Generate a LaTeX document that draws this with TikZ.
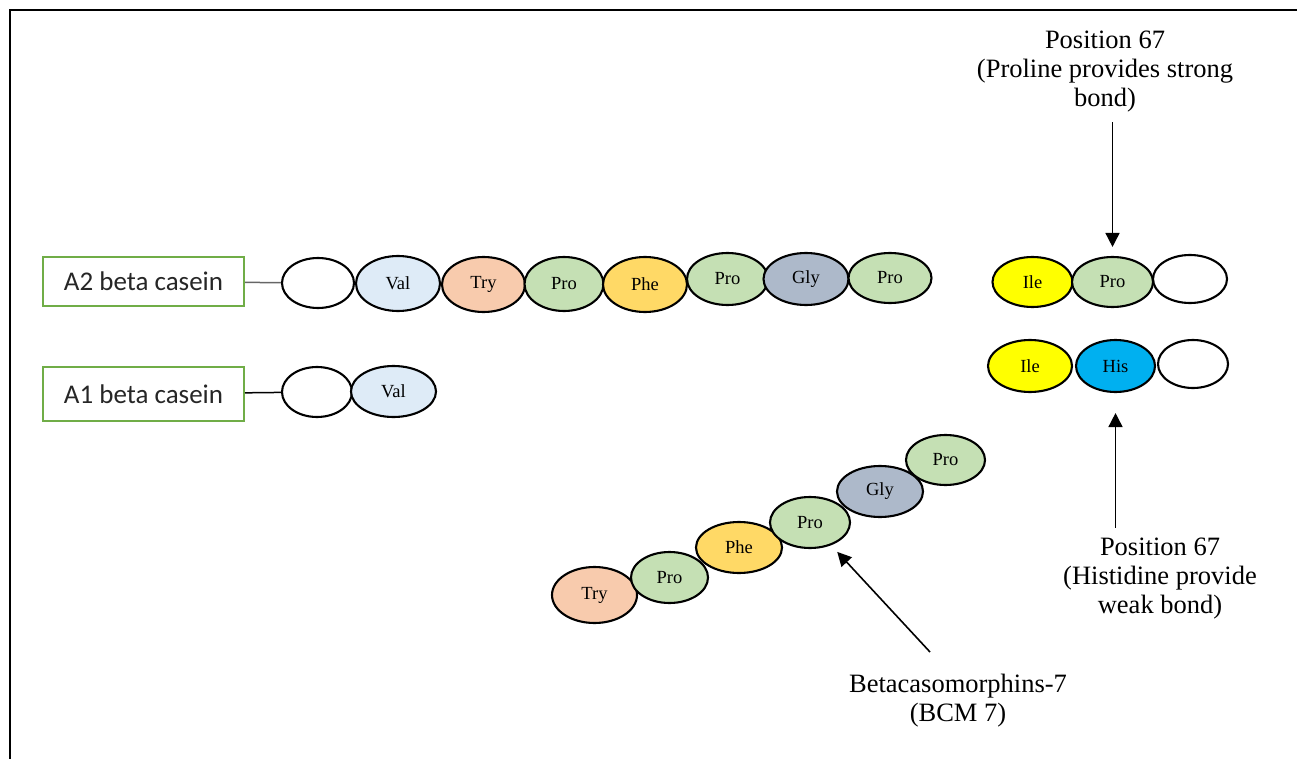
\documentclass[tikz,border=0pt]{standalone}
\usepackage{fontspec}
\setmainfont{Liberation Serif}
\newfontfamily\boxfont{Carlito}
\usetikzlibrary{arrows.meta,shapes.geometric}

\definecolor{boxgreen}{RGB}{112,173,71}
\definecolor{valblue}{RGB}{222,235,247}
\definecolor{trypeach}{RGB}{248,203,173}
\definecolor{progreen}{RGB}{197,224,180}
\definecolor{pheyellow}{RGB}{255,217,102}
\definecolor{glygray}{RGB}{173,185,202}
\definecolor{ileyellow}{RGB}{255,255,0}
\definecolor{hisblue}{RGB}{0,176,240}

\begin{document}
\begin{tikzpicture}[x=1pt,y=-1pt,
  every node/.style={font=\fontsize{26.5}{29}\selectfont},
  acid/.style={ellipse,draw,line width=2.1pt,inner sep=0pt,
    font=\fontsize{18.5}{20}\selectfont},
  chainbox/.style={draw=boxgreen,line width=2pt,minimum width=201pt,
    font=\boxfont\fontsize{27}{30}\selectfont,text=black!85},
  link/.style={line width=1.5pt},
  pointer/.style={line width=1.6pt,-{Triangle[length=14pt,width=14pt]}}]
  \useasboundingbox (0,0) rectangle (1297,759);
  \draw[line width=1.6pt] (10,759) -- (10,10) -- (1297,10);

  % A2 beta casein
  \node[chainbox,minimum height=49pt] (a2box) at (143.5,281.5) {A2 beta casein};
  \node[acid,minimum width=72pt,minimum height=50pt] (a2e) at (318,283) {};
  \node[acid,fill=valblue,minimum width=84pt,minimum height=55pt] (a2val) at (398,283.5) {Val};
  \node[acid,fill=trypeach,minimum width=83pt,minimum height=55pt] (a2try) at (483.5,284.5) {Try};
  \node[acid,fill=progreen,minimum width=79pt,minimum height=54pt] (a2pro1) at (564,284) {Pro};
  \node[acid,fill=pheyellow,minimum width=84pt,minimum height=55pt] (a2phe) at (645,284.5) {Phe};
  \node[acid,fill=progreen,minimum width=81pt,minimum height=52pt] (a2pro2) at (727.5,279) {Pro};
  \node[acid,fill=glygray,minimum width=85pt,minimum height=52pt] (a2gly) at (806,279) {Gly};
  \node[acid,fill=progreen,minimum width=83pt,minimum height=50pt] (a2pro3) at (890,278) {Pro};
  \draw[link,black!60] (a2box) -- (a2e);

  % A1 beta casein
  \node[chainbox,minimum height=54pt] (a1box) at (143.5,394) {A1 beta casein};
  \node[acid,minimum width=70pt,minimum height=50pt] (a1e) at (317,392) {};
  \node[acid,fill=valblue,minimum width=85pt,minimum height=51pt] (a1val) at (393.5,391.5) {Val};
  \draw[link] (a1box) -- (a1e);

  % position 67
  \node[acid,fill=ileyellow,minimum width=80pt,minimum height=50pt] (r1ile) at (1032.5,282) {Ile};
  \node[acid,fill=progreen,minimum width=81pt,minimum height=50pt] (r1pro) at (1112.5,282) {Pro};
  \node[acid,minimum width=74pt,minimum height=48pt] (r1e) at (1190,279) {};
  \node[acid,fill=ileyellow,minimum width=84pt,minimum height=52pt] (r2ile) at (1030,366) {Ile};
  \node[acid,fill=hisblue,minimum width=79pt,minimum height=52pt] (r2his) at (1115.5,366) {His};
  \node[acid,minimum width=70pt,minimum height=48pt] (r2e) at (1193,364) {};

  \node[align=center] (strong) at (1105,72) {Position 67\\(Proline provides strong\\bond)};
  \node[align=center] (weak) at (1160,579) {Position 67\\(Histidine provide\\weak bond)};
  \draw[pointer,shorten <=6pt,shorten >=9pt] (strong.south -| r1pro.north) -- (r1pro.north);
  \draw[pointer,shorten <=7pt,shorten >=20pt] (weak.north -| r2his.south) -- (r2his.south);

  % BCM 7 fragment
  \node[acid,fill=trypeach,minimum width=85pt,minimum height=56pt] (b1try) at (594.5,595) {Try};
  \node[acid,fill=progreen,minimum width=77pt,minimum height=51pt] (b2pro) at (669.5,577.5) {Pro};
  \node[acid,fill=pheyellow,minimum width=86pt,minimum height=51pt] (b3phe) at (739,547.5) {Phe};
  \node[acid,fill=progreen,minimum width=80pt,minimum height=51pt] (b4pro) at (810,522.5) {Pro};
  \node[acid,fill=glygray,minimum width=86pt,minimum height=51pt] (b5gly) at (880,491.5) {Gly};
  \node[acid,fill=progreen,minimum width=79pt,minimum height=50pt] (b6pro) at (945.5,460) {Pro};

  \node[align=center] (bcm) at (958,701) {Betacasomorphins-7\\(BCM 7)};
  \coordinate (bcmtail) at (930,652);
  \draw[pointer,shorten >=9pt] (bcmtail) -- (b4pro);
\end{tikzpicture}
\end{document}
